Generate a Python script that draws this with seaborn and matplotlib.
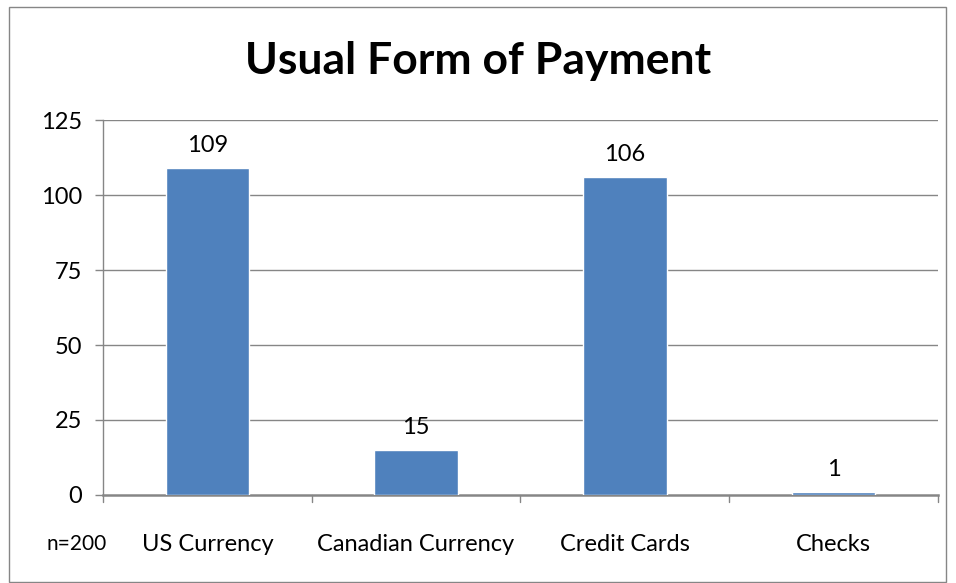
import matplotlib
matplotlib.use("Agg")
import matplotlib.pyplot as plt
import seaborn as sns
import pandas as pd
from matplotlib.patches import Rectangle

categories = ["US Currency", "Canadian Currency", "Credit Cards", "Checks"]
counts = [109, 15, 106, 1]
y_ticks = [0, 25, 50, 75, 100, 125]
title_text = "Usual Form of Payment"
sample_note = "n=200"

sns.set_theme(style="white")
plt.rcParams["font.family"] = ["Lato", "DejaVu Sans"]

df = pd.DataFrame({"method": categories, "count": counts})

fig = plt.figure(figsize=(9.56, 5.83), dpi=100)
ax = fig.add_axes([0.1077, 0.151, 0.8733, 0.643])

sns.barplot(data=df, x="method", y="count", color="#4F81BD", saturation=1,
            width=0.4, ax=ax, zorder=3)

grid_color = "#868686"
ax.set_ylim(0, 125)
ax.set_yticks(y_ticks)
ax.set_xlim(-0.5, len(categories) - 0.5)
for v in y_ticks[1:]:
    ax.axhline(v, color=grid_color, lw=1.0, zorder=1)

for s in ["top", "right"]:
    ax.spines[s].set_visible(False)
ax.spines["left"].set_color(grid_color)
ax.spines["left"].set_linewidth(1.0)
ax.spines["bottom"].set_color(grid_color)
ax.spines["bottom"].set_linewidth(1.8)
ax.spines["bottom"].set_zorder(2)

ax.tick_params(axis="y", which="both", length=6, width=1, color=grid_color,
               labelsize=17, labelcolor="black", pad=9, left=True)
ax.set_xticks(range(len(categories)))
ax.set_xticklabels(categories)
ax.tick_params(axis="x", length=0, labelsize=17, labelcolor="black", pad=28)
# category separators below the baseline
for b in [x - 0.5 for x in range(len(categories) + 1)]:
    ax.plot([b, b], [0, -0.02], transform=ax.get_xaxis_transform(),
            color=grid_color, lw=1, clip_on=False)
ax.set_xlabel("")
ax.set_ylabel("")

for i, v in enumerate(counts):
    ax.text(i, v + 4, str(v), ha="center", va="bottom", fontsize=17,
            color="black")

fig.text(0.5, 0.895, title_text, ha="center", va="center", fontsize=32,
         fontweight="bold", color="black")
fig.text(0.0805, 0.067, sample_note, ha="center", va="center", fontsize=15,
         color="black")

fig.patches.append(Rectangle((9 / 956, 1 - 582 / 583), 937 / 956, 575 / 583,
                             transform=fig.transFigure, fill=False,
                             edgecolor="#868686", lw=1.0))

fig.savefig("out.png", dpi=100)
